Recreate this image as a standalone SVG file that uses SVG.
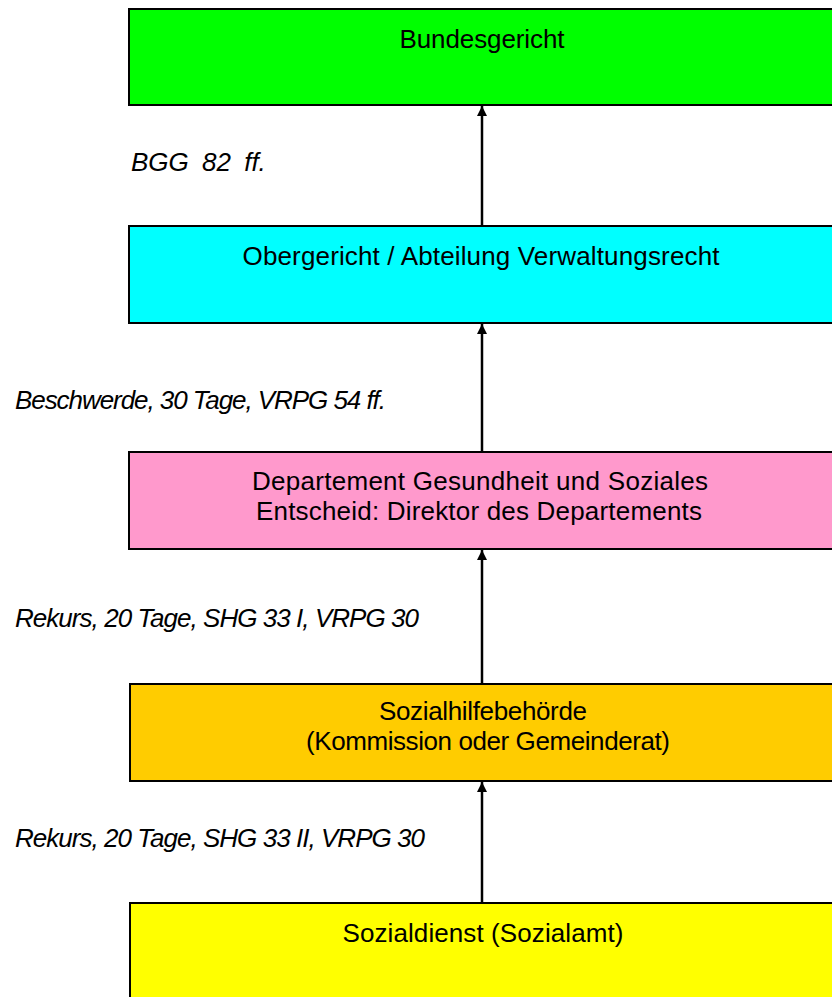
<svg xmlns="http://www.w3.org/2000/svg" width="832" height="997" viewBox="0 0 832 997">
<style>
.box{stroke:#000;stroke-width:2}
.t{font-family:"Liberation Sans",Arial,sans-serif;font-size:26px;fill:#000;text-anchor:middle}
.l{font-family:"Liberation Sans",Arial,sans-serif;font-size:26px;font-style:italic;fill:#000}
.c{stroke:#000;stroke-width:2.5;fill:none;marker-end:url(#ah)}
</style>
<defs>
<marker id="ah" viewBox="0 0 10 10" refX="10" refY="5" markerUnits="userSpaceOnUse" markerWidth="11" markerHeight="10" orient="auto">
<path d="M0,0 L10,5 L0,10 z" fill="#000"/>
</marker>
</defs>
<rect width="832" height="997" fill="#fff"/>
<g id="connectors">
<line class="c" x1="482" y1="226" x2="482" y2="106"/>
<line class="c" x1="482" y1="452" x2="482" y2="324"/>
<line class="c" x1="482" y1="684" x2="482" y2="550"/>
<line class="c" x1="482" y1="903" x2="482" y2="782"/>
</g>
<g id="bundesgericht">
<rect class="box" x="129" y="9" width="720" height="96" fill="#00FF00"/>
<text class="t" x="482" y="48" textLength="165">Bundesgericht</text>
</g>
<g id="obergericht">
<rect class="box" x="129" y="226" width="720" height="97" fill="#00FFFF"/>
<text class="t" x="481" y="265" textLength="477">Obergericht / Abteilung Verwaltungsrecht</text>
</g>
<g id="departement">
<rect class="box" x="129" y="452" width="720" height="97" fill="#FF99CC"/>
<text class="t" x="480" y="490" textLength="456">Departement Gesundheit und Soziales</text>
<text class="t" x="479" y="520" textLength="446">Entscheid: Direktor des Departements</text>
</g>
<g id="sozialhilfebehoerde">
<rect class="box" x="130" y="684" width="720" height="97" fill="#FFCC00" stroke-width="3"/>
<text class="t" x="483" y="720" textLength="208">Sozialhilfebehörde</text>
<text class="t" x="488" y="750" textLength="364">(Kommission oder Gemeinderat)</text>
</g>
<g id="sozialdienst">
<rect class="box" x="130" y="903" width="720" height="120" fill="#FFFF00"/>
<text class="t" x="483" y="942" textLength="281">Sozialdienst (Sozialamt)</text>
</g>
<g id="labels">
<text class="l" x="131" y="171" word-spacing="6">BGG 82 ff.</text>
<text class="l" x="15" y="409" textLength="371">Beschwerde, 30 Tage, VRPG 54 ff.</text>
<text class="l" x="15" y="627" textLength="404">Rekurs, 20 Tage, SHG 33 I, VRPG 30</text>
<text class="l" x="15" y="847" textLength="410">Rekurs, 20 Tage, SHG 33 II, VRPG 30</text>
</g>
</svg>
